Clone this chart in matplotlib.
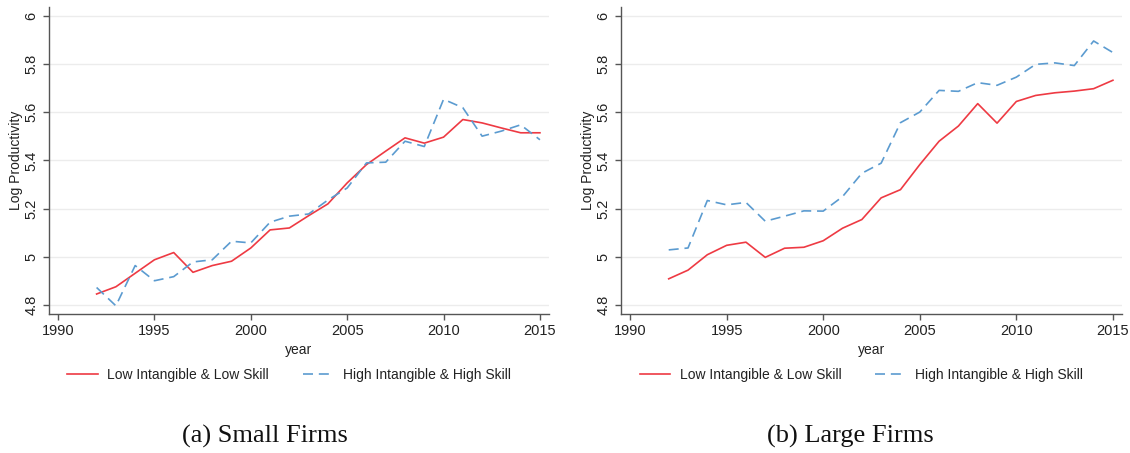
import numpy as np
import matplotlib.pyplot as plt

plt.rcParams['font.family'] = ['Liberation Sans', 'DejaVu Sans']

years = np.arange(1992, 2016)

# small firms
small_low = [4.846, 4.876, 4.932, 4.988, 5.018, 4.936, 4.964, 4.982, 5.037, 5.112,
             5.120, 5.171, 5.220, 5.307, 5.383, 5.439, 5.494, 5.472, 5.497, 5.570,
             5.556, 5.535, 5.515, 5.515]
small_high = [4.873, 4.797, 4.964, 4.901, 4.918, 4.979, 4.988, 5.065, 5.058, 5.144,
              5.169, 5.178, 5.236, 5.286, 5.390, 5.393, 5.480, 5.458, 5.654, 5.619,
              5.501, 5.522, 5.548, 5.486]

# large firms
large_low = [4.909, 4.945, 5.009, 5.048, 5.061, 4.998, 5.036, 5.040, 5.067, 5.119,
             5.155, 5.245, 5.279, 5.383, 5.480, 5.543, 5.636, 5.555, 5.645, 5.670,
             5.681, 5.688, 5.698, 5.733]
large_high = [5.029, 5.037, 5.234, 5.216, 5.226, 5.148, 5.169, 5.191, 5.190, 5.250,
              5.347, 5.389, 5.557, 5.601, 5.691, 5.687, 5.723, 5.712, 5.746, 5.799,
              5.805, 5.794, 5.896, 5.848]

yticks = [4.8, 5.0, 5.2, 5.4, 5.6, 5.8, 6.0]
ytick_labels = ['4.8', '5', '5.2', '5.4', '5.6', '5.8', '6']
xticks = [1990, 1995, 2000, 2005, 2010, 2015]

red = '#ee3a43'
blue = '#5b9bd0'
txt = '#222222'

fig = plt.figure(figsize=(11.3, 4.53), dpi=100)
W, H = 1130, 453
ax1 = fig.add_axes([49 / W, 1 - 314 / H, 500 / W, 307 / H])
ax2 = fig.add_axes([621 / W, 1 - 314 / H, 501 / W, 307 / H])

panels = [(ax1, small_low, small_high, '(a) Small Firms', 0.432),
          (ax2, large_low, large_high, '(b) Large Firms', 0.457)]

for ax, low, high, caption, cap_x in panels:
    ax.plot(years, low, color=red, lw=1.2, label='Low Intangible & Low Skill')
    ax.plot(years, high, color=blue, lw=1.2, dashes=(6, 3.5),
            label='High Intangible & High Skill')
    ax.set_xlim(1989.53, 2015.47)
    ax.set_ylim(4.763, 6.037)
    ax.set_yticks(yticks)
    ax.set_yticklabels(ytick_labels, rotation=90, va='center')
    ax.set_xticks(xticks)
    ax.grid(axis='y', color='#ececec', lw=1)
    ax.set_axisbelow(True)
    for side in ['top', 'right']:
        ax.spines[side].set_visible(False)
    for side in ['left', 'bottom']:
        ax.spines[side].set_color('#555555')
        ax.spines[side].set_linewidth(1)
    ax.tick_params(colors='#555555', labelcolor=txt, labelsize=10.5, length=4, width=1)
    ax.set_xlabel('year', fontsize=10, color=txt, labelpad=3)
    ax.set_ylabel('Log Productivity', fontsize=10, color=txt, labelpad=1)
    ax.legend(loc='center', bbox_to_anchor=(0.48, -0.199), ncol=2, frameon=False,
              fontsize=10, handlelength=2.2, handletextpad=0.7, columnspacing=2.4,
              labelcolor=txt)
    ax.text(cap_x, -0.40, caption, transform=ax.transAxes, ha='center', va='center',
            fontsize=19, family='Liberation Serif', color='#111111')

fig.savefig('out.png', dpi=100)
